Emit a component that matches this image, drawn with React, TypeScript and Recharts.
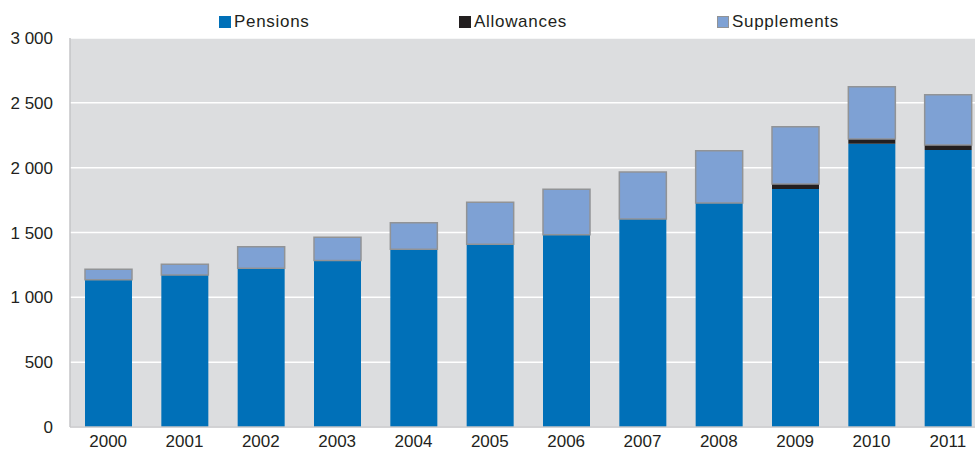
import React from "react";
import { BarChart, Bar, XAxis, YAxis, CartesianGrid, Legend } from "recharts";

const years = ["2000", "2001", "2002", "2003", "2004", "2005", "2006", "2007", "2008", "2009", "2010", "2011"];
const pensions = [1135, 1172, 1224, 1285, 1370, 1409, 1483, 1604, 1727, 1835, 2185, 2136];
const allowances = [0, 0, 0, 0, 0, 0, 0, 0, 0, 39, 36, 39];
const supplements = [81, 83, 166, 178, 205, 324, 350, 363, 404, 442, 403, 388];
const yTicks = [0, 500, 1000, 1500, 2000, 2500, 3000];

const legendItems = [
  { name: "Pensions", color: "#0070b8", border: "#0070b8", left: 219 },
  { name: "Allowances", color: "#231f20", border: "#231f20", left: 459 },
  { name: "Supplements", color: "#7ea1d4", border: "#919396", left: 717 },
];

const data = years.map((year, i) => ({
  year,
  pensions: pensions[i],
  allowances: allowances[i],
  supplements: supplements[i],
}));

const fmt = (v: number) => String(v).replace(/\B(?=(\d{3})+(?!\d))/g, " ");

const font = "'Liberation Sans', Arial, sans-serif";

const renderLegend = () => (
  <div style={{ position: "relative", height: 22, fontFamily: font, fontSize: 17, letterSpacing: 0.7, color: "#231f20" }}>
    {legendItems.map((item) => (
      <div key={item.name} style={{ position: "absolute", left: item.left, top: 0, display: "flex", alignItems: "center" }}>
        <span
          style={{
            display: "inline-block",
            width: 10,
            height: 10,
            background: item.color,
            border: `1px solid ${item.border}`,
            marginRight: 3,
          }}
        />
        <span>{item.name}</span>
      </div>
    ))}
  </div>
);

export default function App() {
  return (
    <div style={{ position: "fixed", left: 0, top: 0, width: 975, height: 452, overflow: "hidden", background: "#fff" }}>
      <BarChart width={1000} height={452} data={data} margin={{ top: 16, right: 14, bottom: 0, left: 0 }}>
        <CartesianGrid fill="#dcdddf" stroke="#ffffff" strokeWidth={1.5} vertical={false} />
        <XAxis
          dataKey="year"
          height={25}
          tickLine={false}
          tickSize={0}
          tickMargin={8}
          axisLine={{ stroke: "#c4c5c7", strokeWidth: 1.5 }}
          tick={{ fill: "#231f20", fontSize: 17, fontFamily: font }}
        />
        <YAxis
          width={70}
          domain={[0, 3000]}
          ticks={yTicks}
          tickFormatter={fmt}
          tickLine={false}
          tickSize={0}
          tickMargin={17}
          axisLine={{ stroke: "#c4c5c7", strokeWidth: 1.5 }}
          tick={{ fill: "#231f20", fontSize: 17, fontFamily: font }}
        />
        <Legend verticalAlign="top" content={renderLegend} wrapperStyle={{ top: 12, left: 0, width: 1000 }} />
        <Bar dataKey="pensions" name="Pensions" stackId="a" fill="#0070b8" barSize={47} isAnimationActive={false} />
        <Bar dataKey="allowances" name="Allowances" stackId="a" fill="#231f20" barSize={47} isAnimationActive={false} />
        <Bar
          dataKey="supplements"
          name="Supplements"
          stackId="a"
          fill="#7ea1d4"
          stroke="#919396"
          strokeWidth={1.5}
          barSize={47}
          isAnimationActive={false}
        />
      </BarChart>
    </div>
  );
}
